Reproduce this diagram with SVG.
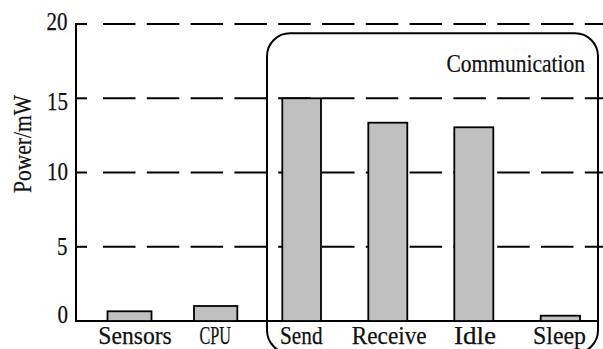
<svg xmlns="http://www.w3.org/2000/svg" width="603" height="349" viewBox="0 0 603 349">
  <style>
    .grid { stroke: #000; stroke-width: 2; stroke-dasharray: 32.5 11.3; fill: none; }
    .axis { stroke: #000; stroke-width: 2; fill: none; }
    .bar { fill: #c0c0c0; stroke: #000; stroke-width: 1.8; }
    .lbl { font-family: "Liberation Serif", "DejaVu Serif", serif; font-size: 26px; fill: #111; stroke: #111; stroke-width: 0.25; }
    .tick { text-anchor: end; }
  </style>
  <rect width="603" height="349" fill="#fff"/>

  <!-- grid lines and y-axis -->
  <g id="grid">
    <line class="grid" x1="103" y1="24" x2="603" y2="24"/>
    <line class="grid" x1="103" y1="98.3" x2="603" y2="98.3"/>
    <line class="grid" x1="103" y1="172.5" x2="603" y2="172.5"/>
    <line class="grid" x1="103" y1="246.8" x2="603" y2="246.8"/>
    <line class="axis" x1="76" y1="24" x2="87" y2="24"/>
    <line class="axis" x1="76" y1="98.3" x2="87" y2="98.3"/>
    <line class="axis" x1="76" y1="172.5" x2="87" y2="172.5"/>
    <line class="axis" x1="76" y1="246.8" x2="87" y2="246.8"/>
    <line class="axis" x1="76" y1="23" x2="76" y2="321"/>
    <line class="axis" x1="75" y1="321" x2="598" y2="321"/>
  </g>

  <!-- y tick labels and axis title -->
  <g id="y-labels">
    <text class="lbl tick" x="67.5" y="29.5" textLength="21" lengthAdjust="spacingAndGlyphs">20</text>
    <text class="lbl tick" x="68" y="110" textLength="21" lengthAdjust="spacingAndGlyphs">15</text>
    <text class="lbl tick" x="68" y="180" textLength="21" lengthAdjust="spacingAndGlyphs">10</text>
    <text class="lbl tick" x="67.5" y="255" textLength="10.5" lengthAdjust="spacingAndGlyphs">5</text>
    <text class="lbl tick" x="68" y="323" textLength="10.5" lengthAdjust="spacingAndGlyphs">0</text>
    <text class="lbl" transform="translate(31,193) rotate(-90)" x="0" y="0" textLength="98" lengthAdjust="spacingAndGlyphs">Power/mW</text>
  </g>

  <!-- communication group frame -->
  <g id="communication">
    <rect x="267" y="33.3" width="331" height="320" rx="23" ry="23" fill="none" stroke="#000" stroke-width="2"/>
    <text class="lbl" transform="translate(446.5,71.5) scale(0.83,1)" x="0" y="0" textLength="166.9" lengthAdjust="spacingAndGlyphs">Communication</text>
  </g>

  <!-- bars -->
  <g id="bar-sensors">
    <rect class="bar" x="107.5" y="311.3" width="44" height="9.7"/>
    <text class="lbl" x="98.3" y="343.5" textLength="73.5" lengthAdjust="spacingAndGlyphs">Sensors</text>
  </g>
  <g id="bar-cpu">
    <rect class="bar" x="194" y="306" width="43.3" height="15"/>
    <text class="lbl" x="199.5" y="343.5" textLength="31.5" lengthAdjust="spacingAndGlyphs">CPU</text>
  </g>
  <g id="bar-send">
    <rect class="bar" x="282.3" y="98.3" width="38.7" height="222.7"/>
    <text class="lbl" x="280" y="343.5" textLength="42.5" lengthAdjust="spacingAndGlyphs">Send</text>
  </g>
  <g id="bar-receive">
    <rect class="bar" x="368.3" y="122.7" width="39" height="198.3"/>
    <text class="lbl" x="351.7" y="343.5" textLength="75" lengthAdjust="spacingAndGlyphs">Receive</text>
  </g>
  <g id="bar-idle">
    <rect class="bar" x="454.3" y="127.3" width="39" height="193.7"/>
    <text class="lbl" x="454" y="343.5" textLength="42" lengthAdjust="spacingAndGlyphs">Idle</text>
  </g>
  <g id="bar-sleep">
    <rect class="bar" x="540.7" y="315.7" width="39.3" height="5.3"/>
    <text class="lbl" x="533" y="343.5" textLength="53" lengthAdjust="spacingAndGlyphs">Sleep</text>
  </g>
</svg>
